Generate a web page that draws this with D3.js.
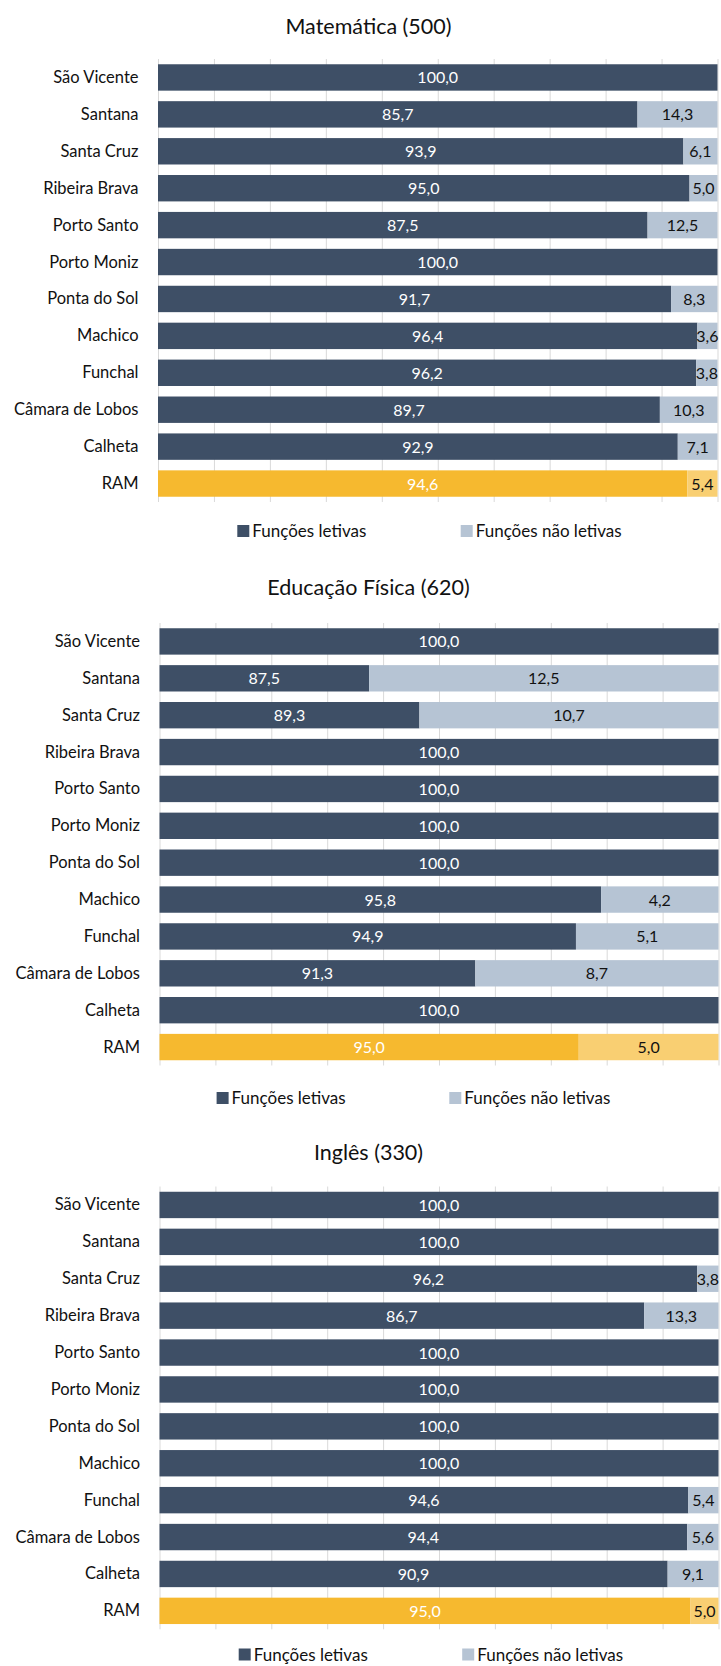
<!DOCTYPE html>
<html>
<head>
<meta charset="utf-8">
<script src="https://cdn.jsdelivr.net/npm/d3@7"></script>
<style>
  body { margin: 0; background: #fff; }
  text { font-family: Lato, "Open Sans", sans-serif; }
</style>
</head>
<body>
<script>
// Categories (same for all three charts)
const categories = ["São Vicente", "Santana", "Santa Cruz", "Ribeira Brava", "Porto Santo", "Porto Moniz",
  "Ponta do Sol", "Machico", "Funchal", "Câmara de Lobos", "Calheta", "RAM"];

// Matemática (500)
const matLetivas = [100.0, 85.7, 93.9, 95.0, 87.5, 100.0, 91.7, 96.4, 96.2, 89.7, 92.9, 94.6];
const matNaoLetivas = [0, 14.3, 6.1, 5.0, 12.5, 0, 8.3, 3.6, 3.8, 10.3, 7.1, 5.4];

// Educação Física (620)
const efLetivas = [100.0, 87.5, 89.3, 100.0, 100.0, 100.0, 100.0, 95.8, 94.9, 91.3, 100.0, 95.0];
const efNaoLetivas = [0, 12.5, 10.7, 0, 0, 0, 0, 4.2, 5.1, 8.7, 0, 5.0];

// Inglês (330)
const ingLetivas = [100.0, 100.0, 96.2, 86.7, 100.0, 100.0, 100.0, 100.0, 94.6, 94.4, 90.9, 95.0];
const ingNaoLetivas = [0, 0, 3.8, 13.3, 0, 0, 0, 0, 5.4, 5.6, 9.1, 5.0];

const seriesNames = ["Funções letivas", "Funções não letivas"];

// Colours
const dark = "#3e4f66", light = "#b6c4d4";
const gold = "#f6b92f", lightGold = "#f9cf72";

const fmt = d3.formatLocale({ decimal: ",", thousands: ".", grouping: [3], currency: ["", "€"] }).format(".1f");

const svg = d3.select("body").append("svg")
  .attr("width", 721)
  .attr("height", 1666);

function drawChart(cfg) {
  const g = svg.append("g");

  const x = d3.scaleLinear().domain(cfg.domain).range([cfg.left, cfg.right]);
  const y = d3.scaleBand().domain(categories)
    .range([cfg.top, cfg.bottom])
    .paddingInner(0.285)
    .paddingOuter(0.1425);

  // title
  g.append("text")
    .attr("x", 368.5)
    .attr("y", cfg.titleY)
    .attr("text-anchor", "middle")
    .attr("font-size", 21.5)
    .attr("fill", "#111")
    .text(cfg.title);

  // vertical gridlines
  g.append("g")
    .attr("transform", `translate(0,${cfg.bottom})`)
    .call(d3.axisBottom(x)
      .tickValues(d3.range(cfg.domain[0], cfg.domain[1] + 0.001, cfg.step))
      .tickSize(-(cfg.bottom - cfg.top))
      .tickFormat(""))
    .call(a => a.select(".domain").remove())
    .call(a => a.selectAll("line").attr("stroke", "#d9d9d9"));

  // category labels
  g.append("g")
    .attr("transform", `translate(${cfg.left},0)`)
    .call(d3.axisLeft(y).tickSize(0).tickPadding(19.5))
    .call(a => a.select(".domain").remove())
    .call(a => a.selectAll("text")
      .attr("font-family", "Lato, sans-serif")
      .attr("font-size", 16.5)
      .attr("fill", "#111")
      .attr("dy", null)
      .attr("y", 5.5));

  const rows = categories.map((c, i) => ({
    cat: c, letivas: cfg.letivas[i], nao: cfg.naoLetivas[i], ram: c === "RAM"
  }));

  const row = g.selectAll(".row")
    .data(rows)
    .enter()
    .append("g")
    .attr("class", "row");

  row.append("rect")
    .attr("x", x(cfg.domain[0]))
    .attr("y", d => y(d.cat))
    .attr("width", d => x(d.letivas) - x(cfg.domain[0]))
    .attr("height", y.bandwidth())
    .attr("fill", d => d.ram ? gold : dark);

  row.filter(d => d.nao > 0)
    .append("rect")
    .attr("x", d => x(d.letivas))
    .attr("y", d => y(d.cat))
    .attr("width", d => x(d.letivas + d.nao) - x(d.letivas))
    .attr("height", y.bandwidth())
    .attr("fill", d => d.ram ? lightGold : light);

  // value labels
  row.append("text")
    .attr("x", d => (x(cfg.domain[0]) + x(d.letivas)) / 2)
    .attr("y", d => y(d.cat) + y.bandwidth() / 2 + 6)
    .attr("text-anchor", "middle")
    .attr("font-size", 16)
    .attr("fill", "#fff")
    .text(d => fmt(d.letivas));

  row.filter(d => d.nao > 0)
    .append("text")
    .attr("x", d => (x(d.letivas) + x(d.letivas + d.nao)) / 2)
    .attr("y", d => y(d.cat) + y.bandwidth() / 2 + 6)
    .attr("text-anchor", "middle")
    .attr("font-size", 16)
    .attr("fill", "#111")
    .text(d => fmt(d.nao));

  // legend
  const legend = g.selectAll(".legend")
    .data(seriesNames)
    .enter()
    .append("g")
    .attr("class", "legend")
    .attr("transform", (d, i) => `translate(${cfg.legendX[i]},${cfg.legendY})`);

  legend.append("rect")
    .attr("x", 0)
    .attr("y", -6)
    .attr("width", 12)
    .attr("height", 12)
    .attr("fill", (d, i) => i === 0 ? dark : light);

  legend.append("text")
    .attr("x", 15)
    .attr("y", 6)
    .attr("font-size", 17)
    .attr("fill", "#111")
    .text(d => d);
}

drawChart({
  title: "Matemática (500)", letivas: matLetivas, naoLetivas: matNaoLetivas,
  domain: [0, 100], step: 10,
  left: 158, right: 717.5, top: 59, bottom: 502,
  titleY: 33.5, legendY: 531, legendX: [237.3, 460.7]
});

drawChart({
  title: "Educação Física (620)", letivas: efLetivas, naoLetivas: efNaoLetivas,
  domain: [80, 100], step: 2,
  left: 159.5, right: 718.5, top: 623, bottom: 1065.5,
  titleY: 595, legendY: 1098, legendX: [216.6, 449.3]
});

// last legend nudged up a little so it is not clipped at the bottom edge
drawChart({
  title: "Inglês (330)", letivas: ingLetivas, naoLetivas: ingNaoLetivas,
  domain: [0, 100], step: 10,
  left: 159.5, right: 718.5, top: 1186.5, bottom: 1629.3,
  titleY: 1160, legendY: 1654.5, legendX: [238.7, 462.2]
});
</script>
</body>
</html>
